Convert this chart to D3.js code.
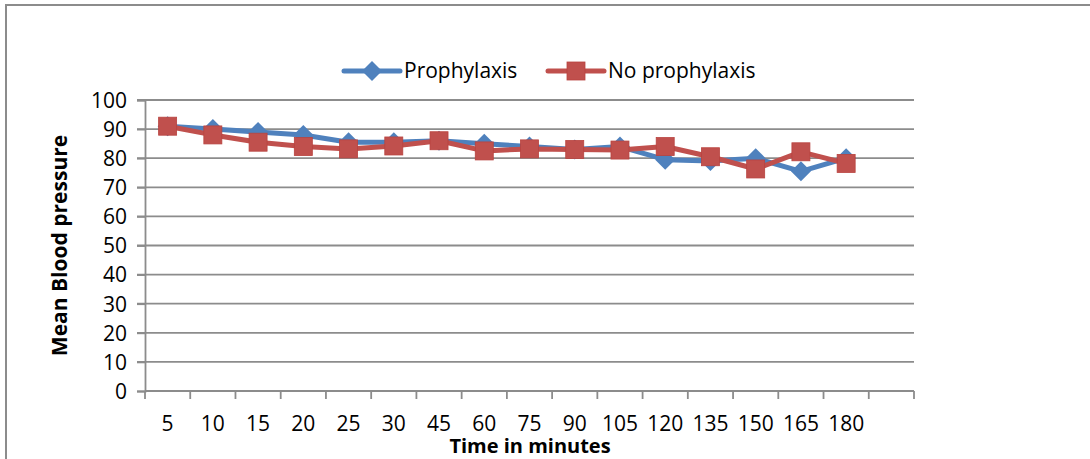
<!DOCTYPE html>
<html>
<head>
<meta charset="utf-8">
<script src="https://cdn.jsdelivr.net/npm/d3@7"></script>
<style>
  body { margin: 0; background: #fff; }
  text { font-family: "Open Sans", sans-serif; fill: #000; }
</style>
</head>
<body>
<svg id="chart" width="1090" height="459"></svg>
<script>
// categories (last slot is empty, as in the original axis)
var times = ["5", "10", "15", "20", "25", "30", "45", "60", "75", "90", "105", "120", "135", "150", "165", "180", ""];
var prophylaxis = [91, 90, 89, 88, 85.5, 85.5, 86, 85, 84, 83, 84, 79.5, 79, 80, 75.5, 80];
var noProphylaxis = [91, 88, 85.5, 84, 83.2, 84.2, 86, 82.5, 83.2, 83, 82.8, 84, 80.5, 76.3, 82.2, 78.2];
var yTicks = [0, 10, 20, 30, 40, 50, 60, 70, 80, 90, 100];

const svg = d3.select("#chart");
const margin = { left: 145, right: 176, top: 100, bottom: 68 };
const width = +svg.attr("width"), height = +svg.attr("height");

// outer frame
svg.append("path")
    .attr("d", "M6,459 V5 H1090")
    .attr("fill", "none")
    .attr("stroke", "#8c8c8c")
    .attr("stroke-width", 2);

const x = d3.scaleBand()
    .domain(times)
    .range([margin.left, width - margin.right]);
const y = d3.scaleLinear()
    .domain([0, 100])
    .range([height - margin.bottom, margin.top]);

// gridlines
svg.append("g")
    .selectAll("line")
    .data(yTicks.slice(1))
    .enter()
    .append("line")
        .attr("x1", margin.left - 8)
        .attr("x2", width - margin.right)
        .attr("y1", d => y(d))
        .attr("y2", d => y(d))
        .attr("stroke", "#8c8c8c")
        .attr("stroke-width", 1.8);

// y axis
const yAxis = svg.append("g")
    .attr("transform", "translate(" + margin.left + ",0)")
    .call(d3.axisLeft(y).tickValues(yTicks).tickSize(8).tickPadding(10));
yAxis.select(".domain").attr("stroke", "#8c8c8c").attr("stroke-width", 1.8);
yAxis.selectAll(".tick line").attr("stroke", "#8c8c8c").attr("stroke-width", 1.8);
yAxis.selectAll("text").style("font-size", "21px").attr("dy", "0.35em");

// x axis (ticks between categories)
const xAxis = svg.append("g")
    .attr("transform", "translate(0," + y(0) + ")");
xAxis.append("line")
    .attr("x1", margin.left).attr("x2", width - margin.right)
    .attr("stroke", "#8c8c8c").attr("stroke-width", 1.8);
const edges = times.map(d => x(d)).concat([width - margin.right]);
xAxis.selectAll(".tk")
    .data(edges)
    .enter()
    .append("line")
        .attr("class", "tk")
        .attr("x1", d => d).attr("x2", d => d)
        .attr("y1", 0).attr("y2", 8)
        .attr("stroke", "#8c8c8c").attr("stroke-width", 1.8);
xAxis.selectAll(".lbl")
    .data(times)
    .enter()
    .append("text")
        .attr("class", "lbl")
        .attr("x", d => x(d) + x.bandwidth() / 2)
        .attr("y", 40)
        .attr("text-anchor", "middle")
        .style("font-size", "21px")
        .text(d => d);

// axis titles
svg.append("text")
    .attr("transform", "translate(67," + (margin.top + (y(0) - margin.top) / 2) + ") rotate(-90)")
    .attr("text-anchor", "middle")
    .style("font-size", "21px")
    .style("font-weight", "bold")
    .text("Mean Blood pressure");
svg.append("text")
    .attr("x", 530)
    .attr("y", 453)
    .attr("text-anchor", "middle")
    .style("font-size", "20px")
    .style("font-weight", "bold")
    .text("Time in minutes");

const cx = (d, i) => x(times[i]) + x.bandwidth() / 2;
const line = d3.line().x((d, i) => cx(d, i)).y(d => y(d));

const series = [
    { name: "Prophylaxis", values: prophylaxis, color: "#4f81bd", shape: "diamond" },
    { name: "No prophylaxis", values: noProphylaxis, color: "#c0504d", shape: "square" }
];

function marker(sel, s) {
    if (s.shape == "diamond") {
        sel.append("path")
            .attr("d", "M0,-10 L10,0 L0,10 L-10,0 Z")
            .attr("fill", s.color);
    } else {
        sel.append("rect")
            .attr("x", -9).attr("y", -9)
            .attr("width", 18).attr("height", 18)
            .attr("fill", s.color)
            .attr("stroke", "#b8433f")
            .attr("stroke-width", 0.8);
    }
}

series.forEach(s => {
    svg.append("path")
        .datum(s.values)
        .attr("d", line)
        .attr("fill", "none")
        .attr("stroke", s.color)
        .attr("stroke-width", 5)
        .attr("stroke-linejoin", "round");
    s.values.forEach((v, i) => {
        const g = svg.append("g")
            .attr("transform", "translate(" + cx(v, i) + "," + y(v) + ")");
        marker(g, s);
    });
});

// legend
const legendX = [344, 548];
series.forEach((s, i) => {
    const lg = svg.append("g").attr("transform", "translate(" + legendX[i] + ",71)");
    lg.append("line")
        .attr("x1", 0).attr("x2", 56)
        .attr("stroke", s.color).attr("stroke-width", 5)
        .attr("stroke-linecap", "round");
    marker(lg.append("g").attr("transform", "translate(28,0)"), s);
    lg.append("text")
        .attr("x", 60)
        .attr("dy", "0.35em")
        .style("font-size", "21px")
        .text(s.name);
});
</script>
</body>
</html>
